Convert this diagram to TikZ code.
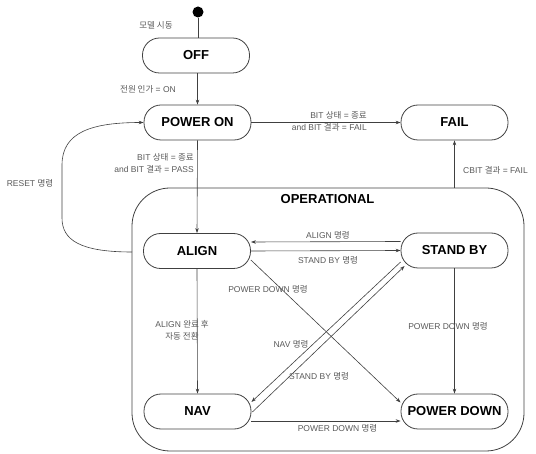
\documentclass[tikz,border=0pt]{standalone}
\usepackage{fontspec}
\setmainfont{Liberation Sans}
\newfontfamily\korfont{Noto Sans CJK KR}
\newcommand{\ko}[1]{{\korfont #1}}
\usetikzlibrary{arrows.meta}
\begin{document}
\begin{tikzpicture}[x=1pt,y=-1pt,
  state/.style={draw=black!75, line width=0.8pt, rounded corners=17pt, minimum width=107pt, minimum height=35pt, font=\fontsize{13}{15}\selectfont\bfseries, inner sep=0pt},
  lbl/.style={font=\fontsize{8.5}{12.5}\selectfont, text=black!65, inner sep=0pt, align=center},
  arr/.style={draw=black!75, line width=0.6pt, -{Stealth[length=5pt,width=3.5pt]}},
  ln/.style={draw=black!75, line width=0.6pt}]
\useasboundingbox (0,0) rectangle (536,454);

% container
\node[draw=black!75, line width=0.8pt, rounded corners=38pt, minimum width=392pt, minimum height=263pt, inner sep=0pt] (op) at (328,319.5) {};
\node[font=\fontsize{13}{15}\selectfont\bfseries, inner sep=0pt] (optitle) at (327.5,199) {OPERATIONAL};

% initial
\node[circle, fill=black, minimum size=11pt, inner sep=0pt] (init) at (198,12) {};

% states
\node[state] (off) at (196,55.5) {OFF};
\node[state] (pon) at (197.5,122.5) {POWER ON};
\node[state] (fail) at (454.5,122.5) {FAIL};
\node[state] (align) at (197,251) {ALIGN};
\node[state] (sb) at (454.5,250.5) {STAND BY};
\node[state] (nav) at (197.5,411.5) {NAV};
\node[state] (pd) at (454.5,411.5) {POWER DOWN};

% connectors
\draw[ln] (init) -- (init |- off.north);
\draw[arr] (off.south -| pon.north) -- (pon.north);
\draw[arr] (pon) -- (fail);
\draw[arr] (fail.south |- op.north) -- (fail.south);
\draw[arr] (pon.south) -- (align.north);
\coordinate (rs) at (132,252);
\draw[arr] (rs) .. controls (80,252) and (62,240) .. (62,218) -- (62,165) .. controls (62,132) and (92,122.5) .. (pon.west);

\draw[arr] ([shift={(0,-9)}]sb.west) -- ([shift={(0,-9)}]align.east);
\draw[arr] (align.east) -- (sb.west);
\draw[arr] (align.south) -- (nav.north);
\draw[arr] (sb.south) -- (pd.north);
\draw[arr] ([shift={(0,9.5)}]nav.east) -- ([shift={(0,9.5)}]pd.west);
\draw[arr] ([shift={(0,9)}]align.east) -- ([shift={(0,-9)}]pd.west);
\draw[arr] ([shift={(0,11.5)}]sb.west) -- ([shift={(0,-9.5)}]nav.east);
\draw[arr] ([shift={(1,0.5)}]nav.east) -- ([shift={(4,15.5)}]sb.west);

% labels
\node[lbl] (l0) at (156,25) {\ko{모델 시동}};
\node[lbl] (l1) at (148,89) {\ko{전원 인가} = ON};
\node[lbl, anchor=east, align=right] (l2) at (367,121.5) {BIT \ko{상태} = \ko{종료}\\and BIT \ko{결과} = FAIL};
\node[lbl, anchor=east, align=right] (l3) at (194,163.5) {BIT \ko{상태} = \ko{종료}\\and BIT \ko{결과} = PASS};
\node[lbl, anchor=west] (l4) at (463,170) {CBIT \ko{결과} = FAIL};
\node[lbl] (l5) at (30,183) {RESET \ko{명령}};
\node[lbl] (l6) at (328,235) {ALIGN \ko{명령}};
\node[lbl] (l7) at (328,260) {STAND BY \ko{명령}};
\node[lbl] (l8) at (268,289) {POWER DOWN \ko{명령}};
\node[lbl] (l9) at (182,330.5) {ALIGN \ko{완료 후}\\\ko{자동 전환}};
\node[lbl] (l10) at (291,344) {NAV \ko{명령}};
\node[lbl] (l11) at (319,376) {STAND BY \ko{명령}};
\node[lbl] (l12) at (448,326) {POWER DOWN \ko{명령}};
\node[lbl] (l13) at (337.5,428) {POWER DOWN \ko{명령}};
\end{tikzpicture}
\end{document}
